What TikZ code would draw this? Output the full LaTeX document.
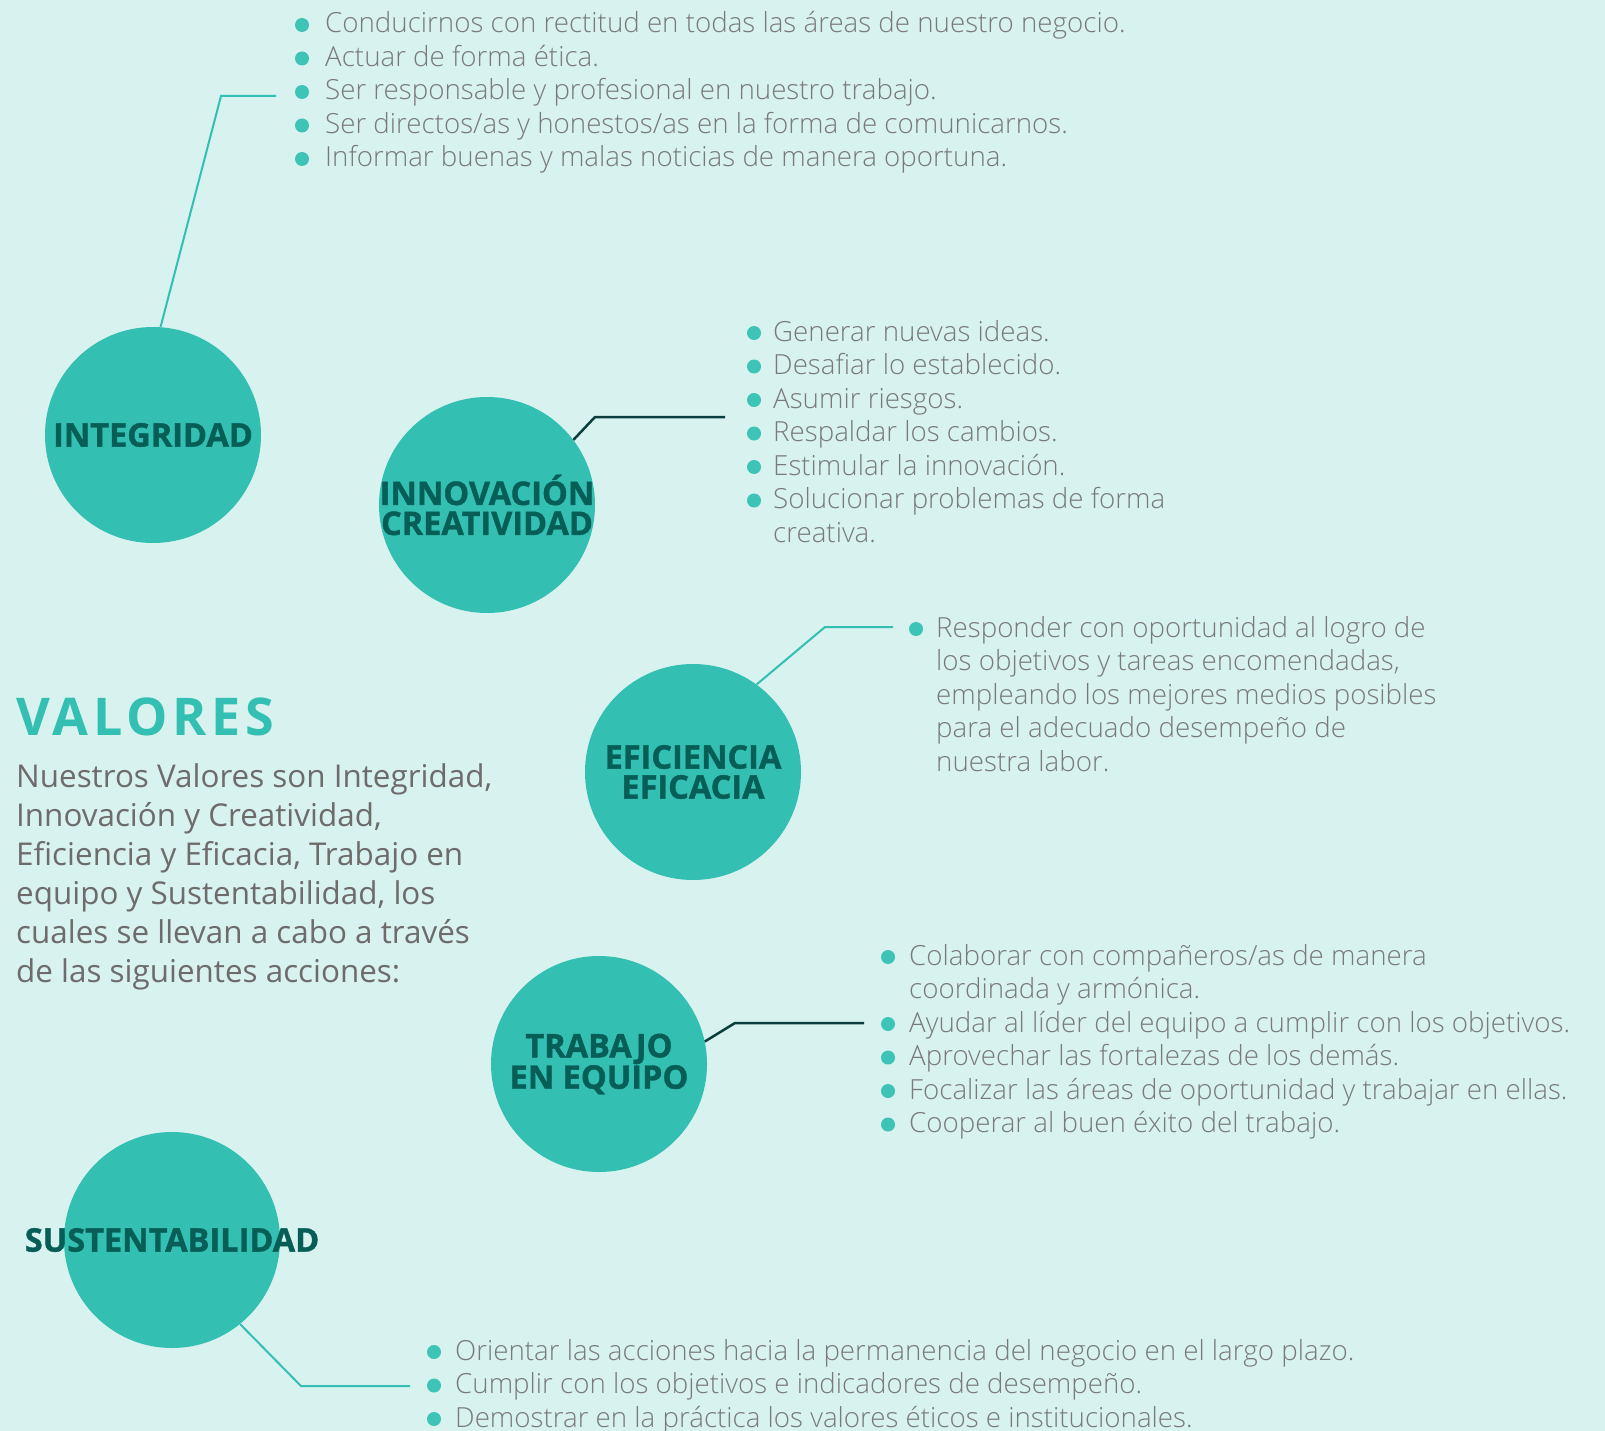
\documentclass[tikz,border=0pt]{standalone}
\usepackage{fontspec}
\setmainfont{Open Sans}
\newfontfamily\ligera{Open Sans Light}
\newfontfamily\gruesa[FakeBold=1.2]{Open Sans Bold}
\usetikzlibrary{positioning}
\definecolor{fondo}{HTML}{D7F2EF}
\definecolor{circulo}{HTML}{33BFB2}
\definecolor{etiqueta}{HTML}{065E57}
\definecolor{puntoc}{HTML}{3EC4B7}
\definecolor{gristexto}{HTML}{7A7A7A}
\definecolor{grisparrafo}{HTML}{6E6B6B}
\definecolor{lineaosc}{HTML}{0B3F3D}
\tikzset{
  valor/.style={circle,fill=circulo,minimum size=216pt,inner sep=0pt,text=etiqueta,
    font=\fontsize{32.5}{30}\selectfont\gruesa,align=center},
  accion/.style={anchor=base west,inner sep=0pt,text=gristexto,font=\fontsize{27.7}{33}\selectfont\ligera},
  punto/.style={circle,fill=puntoc,inner sep=0pt,minimum size=14pt},
  enlace/.style={line width=2pt,circulo},
  enlaceosc/.style={line width=2.5pt,lineaosc},
}

\begin{document}
\begin{tikzpicture}[x=1pt,y=-1pt]
  \useasboundingbox (0,0) rectangle (1605,1431);
  \fill[fondo] (0,0) rectangle (1605,1431);

  \node[valor] (integ) at (153,435) {INTEGRIDAD};
  \node[valor] (innov) at (487,505) {\makebox[0pt]{INNOVACIÓN}\\\makebox[0pt]{CREATIVIDAD}};
  \node[valor] (efici) at (693,772) {EFICIENCIA\\EFICACIA};
  \node[valor] (equipo) at (599,1064) {TRABAJO\\EN EQUIPO};
  \node[valor] (sust) at (172,1240) {\makebox[0pt]{SUSTENTABILIDAD}};

  \node[anchor=base west,inner sep=0pt,text=circulo,
    font=\fontsize{52}{52}\selectfont\bfseries\addfontfeatures{LetterSpace=9}] (titulo) at (16,735) {VALORES};
  \node[anchor=north west,inner sep=0pt,text=grisparrafo,align=left,
    font=\fontsize{31.4}{39}\selectfont] (parrafo) at (16,763)
    {Nuestros Valores son Integridad,\\Innovación y Creatividad,\\Eficiencia y Eficacia, Trabajo en\\
     equipo y Sustentabilidad, los\\cuales se llevan a cabo a través\\de las siguientes acciones:};

  % integridad
  \foreach \txt [count=\i] in {Conducirnos con rectitud en todas las áreas de nuestro negocio.,
      Actuar de forma ética., Ser responsable y profesional en nuestro trabajo.,
      Ser directos/as y honestos/as en la forma de comunicarnos.,
      Informar buenas y malas noticias de manera oportuna.}
  {
    \node[punto] (intp\i) at (302,{25+33.5*(\i-1)}) {};
    \node[accion] (int\i) at (325,{33+33.5*(\i-1)}) {\txt};
  }
  \coordinate (intc) at (276,96);
  \coordinate (intq) at (221,96);
  \draw[enlace] (integ.86) -- (intq) -- (intc);

  % innovacion
  \foreach \txt [count=\i] in {Generar nuevas ideas., Desafiar lo establecido., Asumir riesgos.,
      Respaldar los cambios., Estimular la innovación., Solucionar problemas de forma, creativa.}
    \node[accion] (inn\i) at (773,{341+33.5*(\i-1)}) {\txt};
  \foreach \i in {1,...,6}
    \node[punto] (innp\i) at (754,{333+33.5*(\i-1)}) {};
  \coordinate (innc) at (725,417);
  \coordinate (innq) at (595,417);
  \draw[enlaceosc] (innov.37) -- (innq) -- (innc);

  % eficiencia
  \foreach \txt [count=\i] in {Responder con oportunidad al logro de,
      {los objetivos y tareas encomendadas,}, empleando los mejores medios posibles,
      para el adecuado desempeño de, nuestra labor.}
    \node[accion] (efi\i) at (936,{637+33.5*(\i-1)}) {\txt};
  \node[punto] (efip1) at (916,629) {};
  \coordinate (efc) at (893,627);
  \coordinate (efq) at (825,627);
  \draw[enlace] (efici.54) -- (efq) -- (efc);

  % trabajo en equipo
  \foreach \txt [count=\i] in {Colaborar con compañeros/as de manera, coordinada y armónica.,
      Ayudar al líder del equipo a cumplir con los objetivos.,
      Aprovechar las fortalezas de los demás.,
      Focalizar las áreas de oportunidad y trabajar en ellas.,
      Cooperar al buen éxito del trabajo.}
    \node[accion] (eq\i) at (909,{965+33.5*(\i-1)}) {\txt};
  \foreach \i in {1,3,4,5,6}
    \node[punto] (eqp\i) at (888,{957+33.5*(\i-1)}) {};
  \coordinate (eqc) at (864,1023);
  \coordinate (eqq) at (735,1023);
  \draw[enlaceosc] (equipo.12) -- (eqq) -- (eqc);

  % sustentabilidad
  \foreach \txt [count=\i] in {Orientar las acciones hacia la permanencia del negocio en el largo plazo.,
      Cumplir con los objetivos e indicadores de desempeño.,
      Demostrar en la práctica los valores éticos e institucionales.}
  {
    \node[punto] (susp\i) at (434,{1352+33.5*(\i-1)}) {};
    \node[accion] (sus\i) at (455,{1360+33.5*(\i-1)}) {\txt};
  }
  \coordinate (susc) at (410,1386);
  \coordinate (susq) at (301,1386);
  \draw[enlace] (sust.-51) -- (susq) -- (susc);
\end{tikzpicture}
\end{document}
